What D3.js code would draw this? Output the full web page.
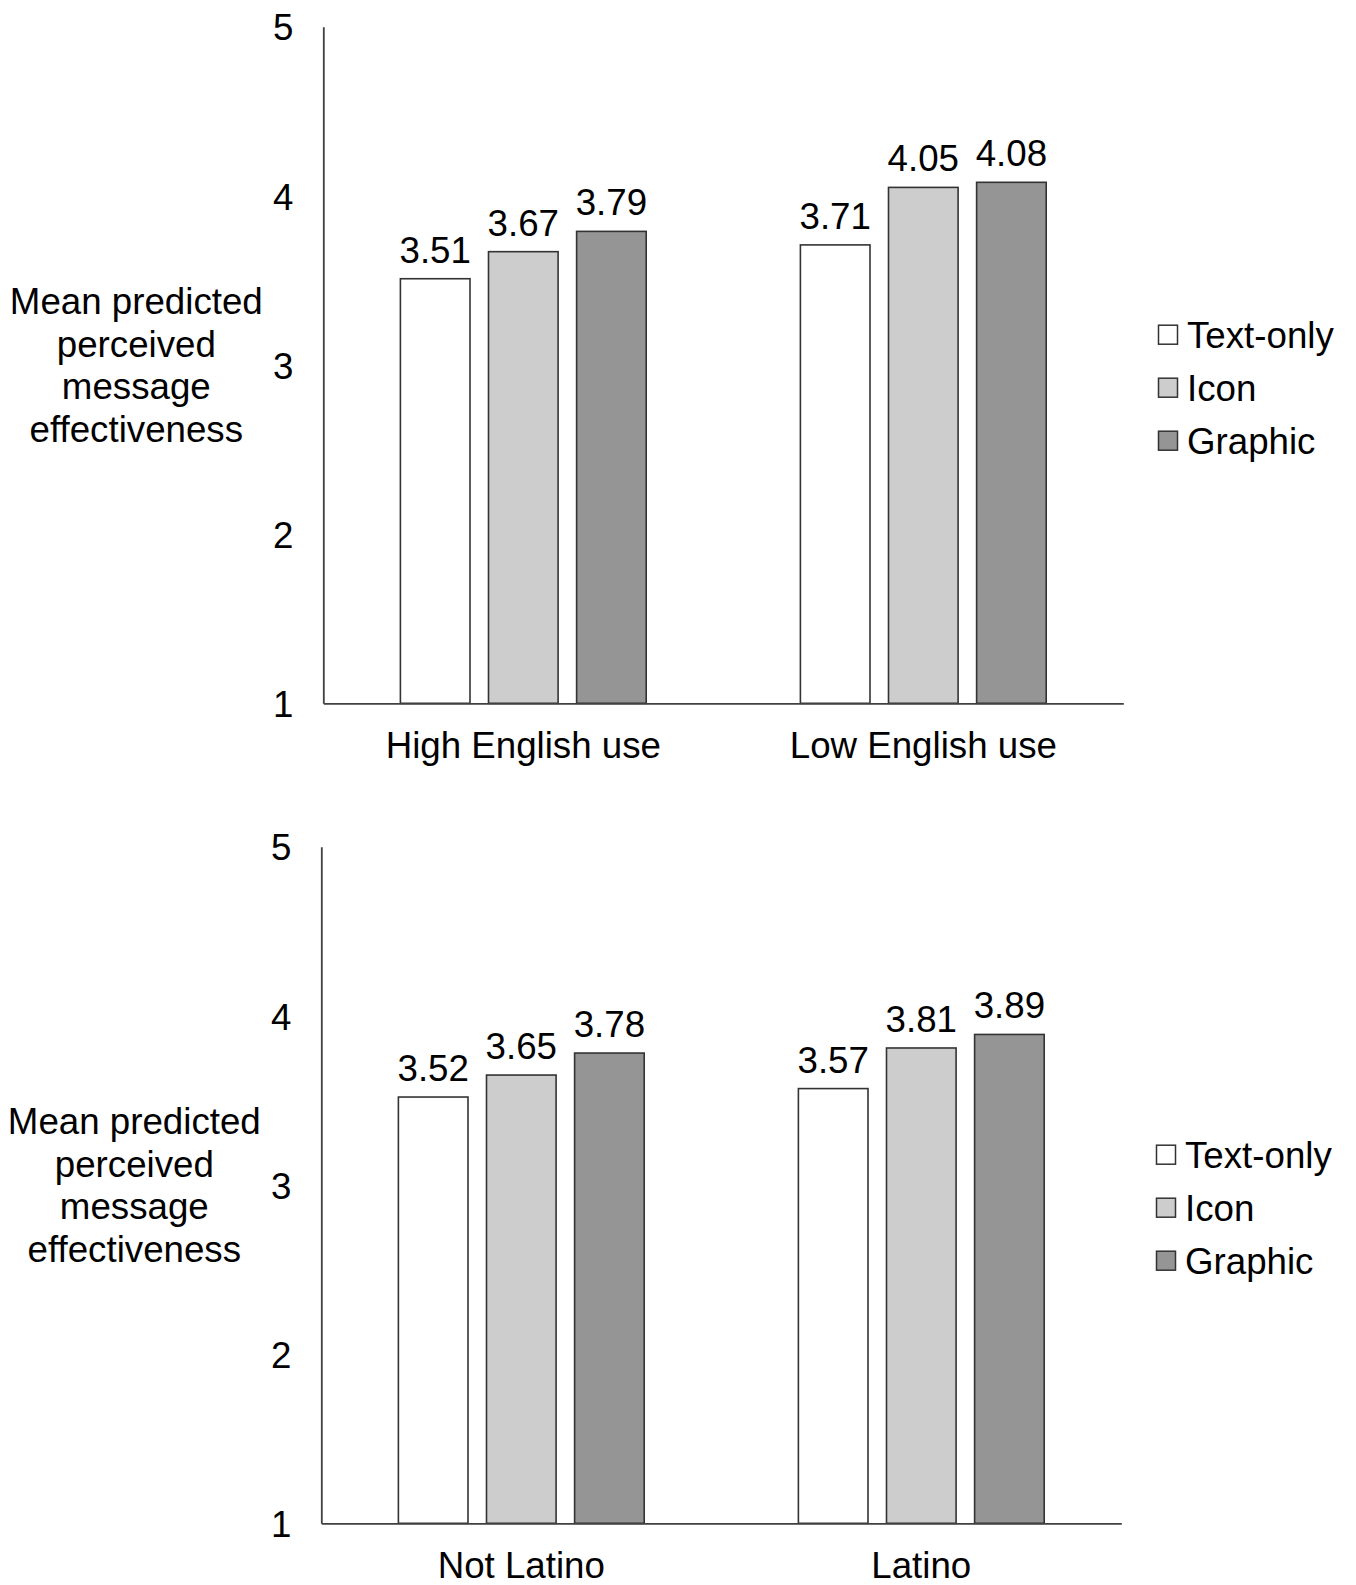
<!DOCTYPE html>
<html>
<head>
<meta charset="utf-8">
<script src="https://cdn.jsdelivr.net/npm/d3@7"></script>
<style>
  html, body { margin: 0; padding: 0; background: #fff; }
  svg { display: block; font-family: "Liberation Sans", Arial, sans-serif; }
</style>
</head>
<body>
<svg id="chart" width="1356" height="1585"></svg>
<script>
// Message formats (series)
const series = ["Text-only", "Icon", "Graphic"];
const seriesFill = ["#ffffff", "#cdcdcd", "#959595"];

// Panel A: English use
const englishCategories = ["High English use", "Low English use"];
const englishTextOnly = [3.51, 3.71];
const englishIcon = [3.67, 4.05];
const englishGraphic = [3.79, 4.08];

// Panel B: Latino ethnicity
const latinoCategories = ["Not Latino", "Latino"];
const latinoTextOnly = [3.52, 3.57];
const latinoIcon = [3.65, 3.81];
const latinoGraphic = [3.78, 3.89];

// Shared y axis
const yDomain = [1, 5];
const yTicks = [1, 2, 3, 4, 5];
const yLabelLines = ["Mean predicted", "perceived", "message", "effectiveness"];

const FONT = 36.7;
const svg = d3.select("#chart");

function drawPanel(ox, oy, categories, textOnly, icon, graphic) {
  const W = 800, H = 676.6;
  const g = svg.append("g").attr("transform", `translate(${ox},${oy})`);

  const y = d3.scaleLinear().domain(yDomain).range([H, 0]);
  const x0 = d3.scaleBand().domain(categories).range([0, W]);
  const x1 = d3.scaleBand().domain(series).range([0, x0.bandwidth()])
    .paddingInner(0.21).paddingOuter(0.875);

  const rows = categories.map((c, i) => ({
    category: c,
    values: [textOnly[i], icon[i], graphic[i]].map((v, j) => ({ key: series[j], value: v, fill: seriesFill[j] }))
  }));

  // bars
  const groups = g.selectAll("g.group").data(rows).join("g")
    .attr("class", "group")
    .attr("transform", d => `translate(${x0(d.category)},0)`);

  groups.selectAll("rect").data(d => d.values).join("rect")
    .attr("x", d => x1(d.key))
    .attr("y", d => y(d.value))
    .attr("width", x1.bandwidth())
    .attr("height", d => H - y(d.value))
    .attr("fill", d => d.fill)
    .attr("stroke", "#333")
    .attr("stroke-width", 1.6);

  // value labels
  groups.selectAll("text.val").data(d => d.values).join("text")
    .attr("class", "val")
    .attr("x", d => x1(d.key) + x1.bandwidth() / 2)
    .attr("y", d => y(d.value) - 16)
    .attr("text-anchor", "middle")
    .attr("font-size", FONT)
    .attr("fill", "#000")
    .text(d => d.value.toFixed(2));

  // y axis
  const yAxis = g.append("g")
    .call(d3.axisLeft(y).tickValues(yTicks).tickSize(0).tickPadding(30).tickFormat(d3.format("d")));
  yAxis.select(".domain").attr("stroke", "#404040").attr("stroke-width", 1.8);
  yAxis.selectAll("text").attr("font-size", FONT).attr("font-family", null).attr("fill", "#000")
    .attr("dy", "0.36em");

  // x axis
  const xAxis = g.append("g").attr("transform", `translate(0,${H})`)
    .call(d3.axisBottom(x0).tickSize(0).tickPadding(29));
  xAxis.select(".domain").attr("stroke", "#404040").attr("stroke-width", 1.8);
  xAxis.selectAll("text").attr("font-size", FONT).attr("font-family", null).attr("fill", "#000");

  // y axis title
  const title = g.append("text")
    .attr("text-anchor", "middle")
    .attr("font-size", FONT)
    .attr("fill", "#000");
  yLabelLines.forEach((line, i) => {
    title.append("tspan")
      .attr("x", -187)
      .attr("y", H / 2 - 63.7 + i * 42.5 + 13)
      .text(line);
  });

  // legend
  const legend = g.append("g").attr("transform", `translate(${W + 35.2},${308})`);
  const item = legend.selectAll("g").data(series).join("g")
    .attr("transform", (d, i) => `translate(0,${i * 53})`);
  item.append("rect")
    .attr("x", 0).attr("y", -9.5)
    .attr("width", 19).attr("height", 19)
    .attr("fill", (d, i) => seriesFill[i])
    .attr("stroke", "#333")
    .attr("stroke-width", 1.5);
  item.append("text")
    .attr("x", 28.5)
    .attr("y", 13)
    .attr("font-size", FONT)
    .attr("fill", "#000")
    .text(d => d);
}

drawPanel(323.3, 26.7, englishCategories, englishTextOnly, englishIcon, englishGraphic);
drawPanel(321.3, 846.7, latinoCategories, latinoTextOnly, latinoIcon, latinoGraphic);
</script>
</body>
</html>
